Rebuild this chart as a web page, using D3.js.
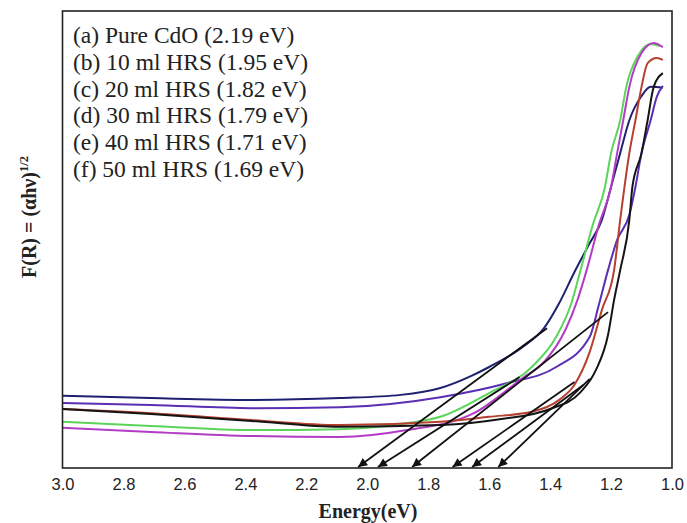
<!DOCTYPE html>
<html>
<head>
<meta charset="utf-8">
<script src="https://cdn.jsdelivr.net/npm/d3@7"></script>
<style>
  body { margin: 0; background: #fff; }
  svg { display: block; }
</style>
</head>
<body>
<svg id="chart"></svg>
<script>
// x ticks (energy, eV) - axis runs from 3.0 down to 1.0
const energyTicks = [3.0, 2.8, 2.6, 2.4, 2.2, 2.0, 1.8, 1.6, 1.4, 1.2, 1.0];

const legendLabels = [
    "(a) Pure CdO (2.19 eV)",
    "(b) 10 ml HRS (1.95 eV)",
    "(c) 20 ml HRS (1.82 eV)",
    "(d) 30 ml HRS (1.79 eV)",
    "(e) 40 ml HRS (1.71 eV)",
    "(f) 50 ml HRS (1.69 eV)"
];

// curves, [energy, F(R)] in arbitrary units (no y ticks on the original)
const navyCurve = [[3.00,1.58],[2.71,1.53],[2.38,1.49],[2.09,1.53],[1.89,1.60],[1.76,1.75],[1.66,2.01],[1.60,2.21],[1.49,2.65],[1.42,3.06],[1.37,3.61],[1.32,4.29],[1.27,4.92],[1.23,5.43],[1.20,6.15],[1.17,6.89],[1.14,7.61],[1.10,8.14],[1.07,8.34],[1.03,8.32]];
const purpleCurve = [[3.00,1.42],[2.71,1.38],[2.38,1.31],[2.09,1.33],[1.76,1.55],[1.54,1.86],[1.38,2.21],[1.27,2.87],[1.24,3.57],[1.21,4.33],[1.18,4.99],[1.14,5.54],[1.12,6.15],[1.10,6.89],[1.07,7.61],[1.05,8.12],[1.03,8.36]];
const redCurve = [[3.00,1.29],[2.71,1.20],[2.38,1.05],[2.09,0.94],[1.76,1.01],[1.60,1.12],[1.46,1.23],[1.37,1.49],[1.32,1.82],[1.27,2.54],[1.23,3.46],[1.19,4.33],[1.17,5.43],[1.14,6.89],[1.12,7.61],[1.10,8.34],[1.08,8.86],[1.05,8.97],[1.03,8.93]];
const blackCurve = [[3.00,1.29],[2.71,1.18],[2.38,1.03],[2.09,0.90],[1.76,0.94],[1.56,1.07],[1.40,1.29],[1.30,1.66],[1.25,2.14],[1.21,2.91],[1.19,3.68],[1.17,4.33],[1.14,5.43],[1.13,6.15],[1.10,6.89],[1.08,7.61],[1.06,8.34],[1.03,8.64]];
const greenCurve = [[3.00,1.01],[2.71,0.92],[2.38,0.83],[2.09,0.85],[1.87,0.98],[1.76,1.12],[1.60,1.64],[1.46,2.21],[1.38,2.87],[1.33,3.61],[1.30,4.33],[1.26,5.32],[1.22,6.15],[1.20,6.89],[1.17,7.61],[1.15,8.34],[1.11,9.04],[1.07,9.28],[1.04,9.23]];
const magentaCurve = [[3.00,0.88],[2.71,0.79],[2.38,0.70],[2.09,0.68],[1.87,0.83],[1.65,1.20],[1.49,1.97],[1.42,2.32],[1.35,3.02],[1.31,3.68],[1.28,4.33],[1.24,5.32],[1.20,6.15],[1.18,6.89],[1.16,7.61],[1.14,8.34],[1.10,9.08],[1.06,9.30],[1.03,9.21]];

// tangent lines: [start energy, start F(R), intercept energy]
const tangents = [
    [1.41, 3.06, 2.03],
    [1.50, 1.99, 1.965],
    [1.21, 3.41, 1.853],
    [1.32, 1.88, 1.72],
    [1.29, 1.82, 1.656],
    [1.27, 1.95, 1.57]
];

const series = [
    { data: navyCurve, color: "#1f2170" },
    { data: purpleCurve, color: "#5a2fb5" },
    { data: greenCurve, color: "#5cd45a" },
    { data: magentaCurve, color: "#b23cc4" },
    { data: redCurve, color: "#b5402e" },
    { data: blackCurve, color: "#151515" }
];

const width = 687, height = 523;
const margin = { top: 11, right: 15, bottom: 55, left: 62.5 };

const svg = d3.select("#chart")
    .attr("width", width)
    .attr("height", height);

const x = d3.scaleLinear()
    .domain([3.0, 1.0])
    .range([margin.left, width - margin.right]);

const y = d3.scaleLinear()
    .domain([0, 10])
    .range([height - margin.bottom, margin.top]);

// arrow head
svg.append("defs").append("marker")
    .attr("id", "arrow")
    .attr("viewBox", "0 0 10 10")
    .attr("refX", 10)
    .attr("refY", 5)
    .attr("markerWidth", 11)
    .attr("markerHeight", 9)
    .attr("markerUnits", "userSpaceOnUse")
    .attr("orient", "auto")
    .append("path")
    .attr("d", "M0,0 L10,5 L0,10 z")
    .attr("fill", "#111");

const line = d3.line()
    .x(d => x(d[0]))
    .y(d => y(d[1]))
    .curve(d3.curveMonotoneX);

svg.append("g")
    .selectAll("path")
    .data(series)
    .join("path")
    .attr("d", d => line(d.data))
    .attr("fill", "none")
    .attr("stroke", d => d.color)
    .attr("stroke-width", 2);

svg.append("g")
    .selectAll("line")
    .data(tangents)
    .join("line")
    .attr("x1", d => x(d[0]))
    .attr("y1", d => y(d[1]))
    .attr("x2", d => x(d[2]))
    .attr("y2", y(0) - 1)
    .attr("stroke", "#111")
    .attr("stroke-width", 1.8)
    .attr("marker-end", "url(#arrow)");

// frame
svg.append("rect")
    .attr("x", margin.left)
    .attr("y", margin.top)
    .attr("width", width - margin.right - margin.left)
    .attr("height", height - margin.bottom - margin.top)
    .attr("fill", "none")
    .attr("stroke", "#222")
    .attr("stroke-width", 1.6);

// x axis labels, no tick marks
const xAxis = d3.axisBottom(x)
    .tickValues(energyTicks)
    .tickFormat(d3.format(".1f"))
    .tickSize(0)
    .tickPadding(10);

svg.append("g")
    .attr("transform", `translate(0,${height - margin.bottom})`)
    .call(xAxis)
    .call(g => g.select(".domain").remove())
    .selectAll("text")
    .style("font-family", "'Liberation Sans', Arial, sans-serif")
    .style("font-size", "16.5px")
    .style("fill", "#222");

svg.append("text")
    .attr("x", 368)
    .attr("y", 518)
    .attr("text-anchor", "middle")
    .style("font-family", "'Liberation Serif', 'Times New Roman', serif")
    .style("font-weight", "bold")
    .style("font-size", "20px")
    .style("fill", "#222")
    .text("Energy(eV)");

const yTitle = svg.append("text")
    .attr("transform", "translate(36,217) rotate(-90)")
    .attr("text-anchor", "middle")
    .style("font-family", "'Liberation Serif', 'Times New Roman', serif")
    .style("font-weight", "bold")
    .style("font-size", "20px")
    .style("fill", "#222");
yTitle.append("tspan").text("F(R) = (αhν)");
yTitle.append("tspan")
    .attr("dy", -8)
    .style("font-size", "12.5px")
    .text("1/2");

// legend
svg.append("g")
    .selectAll("text")
    .data(legendLabels)
    .join("text")
    .attr("x", 73)
    .attr("y", (d, i) => 43 + i * 26.8)
    .style("font-family", "'Liberation Serif', 'Times New Roman', serif")
    .style("font-size", "23.5px")
    .style("fill", "#222")
    .text(d => d);
</script>
</body>
</html>
